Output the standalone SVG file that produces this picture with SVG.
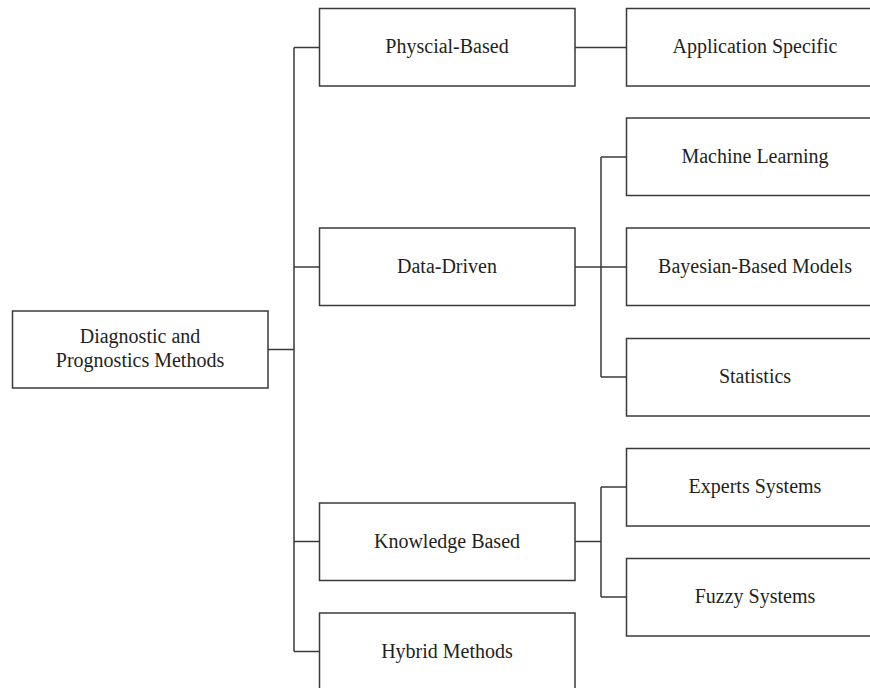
<svg xmlns="http://www.w3.org/2000/svg" width="870" height="688" viewBox="0 0 870 688">
<style>
.box{fill:#fff;stroke:#3a3a3a;stroke-width:1.5}
.lbl{font-family:"Liberation Serif","Times New Roman",serif;font-size:20px;fill:#231f20;text-anchor:middle}
.conn{fill:none;stroke:#3a3a3a;stroke-width:1.5}
</style>
<rect width="870" height="688" fill="#fff"/>
<g id="connectors">
<path class="conn" d="M268 349.5H294M294 47.5V651.5M294 47.5H319M294 267H319M294 541.5H319M294 651.5H319"/>
<path class="conn" d="M575 47.5H626"/>
<path class="conn" d="M575 267H601M601 157V377M601 157H626M601 267H626M601 377H626"/>
<path class="conn" d="M575 541.5H601M601 487V597M601 487H626M601 597H626"/>
</g>
<g id="root"><rect class="box" x="12.5" y="311" width="255.5" height="77"/><text class="lbl" x="140" y="343">Diagnostic and</text><text class="lbl" x="140" y="367">Prognostics Methods</text></g>
<g id="physical"><rect class="box" x="319.5" y="8.5" width="255.5" height="77.5"/><text class="lbl" x="447" y="53">Physcial-Based</text></g>
<g id="datadriven"><rect class="box" x="319.5" y="228" width="255.5" height="77.5"/><text class="lbl" x="447" y="273">Data-Driven</text></g>
<g id="knowledge"><rect class="box" x="319.5" y="503" width="255.5" height="77.5"/><text class="lbl" x="447" y="548">Knowledge Based</text></g>
<g id="hybrid"><rect class="box" x="319.5" y="613" width="255.5" height="80"/><text class="lbl" x="447" y="658">Hybrid Methods</text></g>
<g id="application"><rect class="box" x="626.5" y="8.5" width="256" height="77.5"/><text class="lbl" x="755" y="53">Application Specific</text></g>
<g id="ml"><rect class="box" x="626.5" y="118" width="256" height="77.5"/><text class="lbl" x="755" y="163">Machine Learning</text></g>
<g id="bayes"><rect class="box" x="626.5" y="228" width="256" height="77.5"/><text class="lbl" x="755" y="273">Bayesian-Based Models</text></g>
<g id="stats"><rect class="box" x="626.5" y="338.5" width="256" height="77.5"/><text class="lbl" x="755" y="383">Statistics</text></g>
<g id="experts"><rect class="box" x="626.5" y="448.5" width="256" height="77.5"/><text class="lbl" x="755" y="493">Experts Systems</text></g>
<g id="fuzzy"><rect class="box" x="626.5" y="558.5" width="256" height="77.5"/><text class="lbl" x="755" y="603">Fuzzy Systems</text></g>
</svg>
